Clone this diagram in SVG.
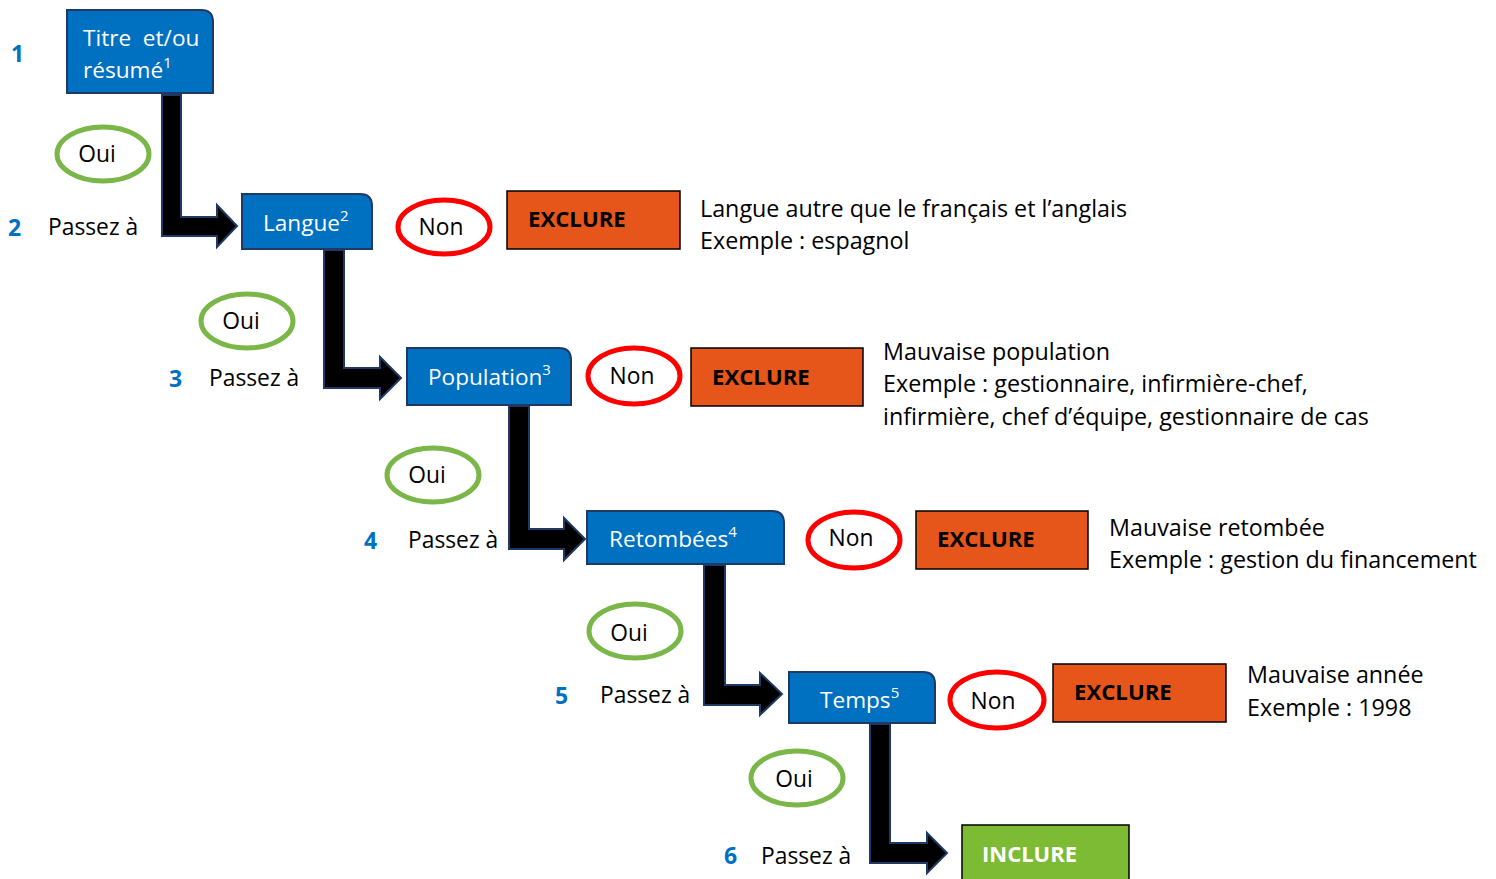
<svg xmlns="http://www.w3.org/2000/svg" width="1496" height="879" viewBox="0 0 1496 879">
<style>
.box{fill:#0070C0;stroke:#1F3864;stroke-width:2}
.bt{font-family:"Open Sans","Liberation Sans",sans-serif;font-size:22.6px;fill:#fff;white-space:pre}
.sup{font-size:15px}
.arr{fill:#000;stroke:#1F3864;stroke-width:2;stroke-linejoin:miter}
.oui{fill:#fff;stroke:#7AB648;stroke-width:5}
.non{fill:#fff;stroke:#FF0000;stroke-width:5}
.lt{font-family:"Open Sans","Liberation Sans",sans-serif;font-size:22.8px;fill:#000}
.num{font-family:"Open Sans","Liberation Sans",sans-serif;font-size:23px;font-weight:bold;fill:#0070C0}
.ex{fill:#E65519;stroke:#000;stroke-width:1.5}
.ext{font-family:"Open Sans","Liberation Sans",sans-serif;font-size:22.2px;font-weight:bold;fill:#000}
.inc{fill:#7CBB33;stroke:#000;stroke-width:1.5}
.inct{font-family:"Open Sans","Liberation Sans",sans-serif;font-size:22px;font-weight:bold;fill:#fff}
.desc{font-family:"Open Sans","Liberation Sans",sans-serif;font-size:23.3px;fill:#000}
</style>
<g id="connectors">
<path class="arr" d="M162,95 L181,95 L181,217 L217,217 L217,205 L237,226 L217,247 L217,236 L162,236 Z"/>
<path class="arr" d="M324,250 L344,250 L344,368 L380,368 L380,357 L401,378 L380,399 L380,388 L324,388 Z"/>
<path class="arr" d="M509,406 L529,406 L529,529 L564,529 L564,518 L585,539 L564,560 L564,549 L509,549 Z"/>
<path class="arr" d="M704,565 L725,565 L725,685 L760,685 L760,673 L782,694 L760,715 L760,705 L704,705 Z"/>
<path class="arr" d="M870,724 L890,724 L890,843 L927,843 L927,833 L947,853 L927,873 L927,863 L870,863 Z"/>
</g>
<g id="step1">
<text class="num" x="11" y="62">1</text>
<path class="box" d="M67,10 L201,10 Q213,10 213,22 L213,93 L67,93 Z"/>
<text class="bt" x="83" y="46" xml:space="preserve">Titre  et/ou</text>
<text class="bt" x="83" y="78">résumé<tspan class="sup" dy="-10">1</tspan></text>
</g>
<g id="oui1"><ellipse class="oui" cx="103" cy="154" rx="46" ry="27"/><text class="lt" x="97" y="162" text-anchor="middle">Oui</text></g>
<g id="step2">
<text class="num" x="8" y="236">2</text>
<text class="lt" x="48" y="235">Passez à</text>
<path class="box" d="M242,194 L360,194 Q372,194 372,206 L372,249 L242,249 Z"/>
<text class="bt" x="263" y="231">Langue<tspan class="sup" dy="-10">2</tspan></text>
</g>
<g id="non1"><ellipse class="non" cx="444" cy="227" rx="46" ry="27"/><text class="lt" x="441" y="235" text-anchor="middle">Non</text></g>
<g id="exclure1"><rect class="ex" x="507" y="191" width="173" height="58"/><text class="ext" x="528" y="227">EXCLURE</text>
<text class="desc" x="700" y="217">Langue autre que le français et l’anglais</text>
<text class="desc" x="700" y="249">Exemple : espagnol</text></g>
<g id="oui2"><ellipse class="oui" cx="247" cy="321" rx="46" ry="27"/><text class="lt" x="241" y="329" text-anchor="middle">Oui</text></g>
<g id="step3">
<text class="num" x="169" y="387">3</text>
<text class="lt" x="209" y="386">Passez à</text>
<path class="box" d="M407,348 L559,348 Q571,348 571,360 L571,405 L407,405 Z"/>
<text class="bt" x="428" y="385">Population<tspan class="sup" dy="-10">3</tspan></text>
</g>
<g id="non2"><ellipse class="non" cx="634" cy="376" rx="46" ry="28"/><text class="lt" x="632" y="384" text-anchor="middle">Non</text></g>
<g id="exclure2"><rect class="ex" x="691" y="348" width="172" height="58"/><text class="ext" x="712" y="385">EXCLURE</text>
<text class="desc" x="883" y="360">Mauvaise population</text>
<text class="desc" x="883" y="392">Exemple : gestionnaire, infirmière-chef,</text>
<text class="desc" x="883" y="425">infirmière, chef d’équipe, gestionnaire de cas</text></g>
<g id="oui3"><ellipse class="oui" cx="433" cy="475" rx="46" ry="27"/><text class="lt" x="427" y="483" text-anchor="middle">Oui</text></g>
<g id="step4">
<text class="num" x="364" y="549">4</text>
<text class="lt" x="408" y="548">Passez à</text>
<path class="box" d="M587,511 L772,511 Q784,511 784,523 L784,564 L587,564 Z"/>
<text class="bt" x="609" y="547">Retombées<tspan class="sup" dy="-10">4</tspan></text>
</g>
<g id="non3"><ellipse class="non" cx="854" cy="540" rx="46" ry="28"/><text class="lt" x="851" y="546" text-anchor="middle">Non</text></g>
<g id="exclure3"><rect class="ex" x="916" y="511" width="172" height="58"/><text class="ext" x="937" y="547">EXCLURE</text>
<text class="desc" x="1109" y="536">Mauvaise retombée</text>
<text class="desc" x="1109" y="568">Exemple : gestion du financement</text></g>
<g id="oui4"><ellipse class="oui" cx="635" cy="631" rx="46" ry="27"/><text class="lt" x="629" y="641" text-anchor="middle">Oui</text></g>
<g id="step5">
<text class="num" x="555" y="704">5</text>
<text class="lt" x="600" y="703">Passez à</text>
<path class="box" d="M789,672 L923,672 Q935,672 935,684 L935,723 L789,723 Z"/>
<text class="bt" x="820" y="708">Temps<tspan class="sup" dy="-10">5</tspan></text>
</g>
<g id="non4"><ellipse class="non" cx="997" cy="700" rx="47" ry="28"/><text class="lt" x="993" y="709" text-anchor="middle">Non</text></g>
<g id="exclure4"><rect class="ex" x="1053" y="664" width="173" height="58"/><text class="ext" x="1074" y="700">EXCLURE</text>
<text class="desc" x="1247" y="683">Mauvaise année</text>
<text class="desc" x="1247" y="716">Exemple : 1998</text></g>
<g id="oui5"><ellipse class="oui" cx="797" cy="778" rx="46" ry="27"/><text class="lt" x="794" y="787" text-anchor="middle">Oui</text></g>
<g id="step6">
<text class="num" x="724" y="864">6</text>
<text class="lt" x="761" y="864">Passez à</text>
<rect class="inc" x="962" y="825" width="167" height="60"/>
<text class="inct" x="982" y="862">INCLURE</text>
</g>
</svg>
